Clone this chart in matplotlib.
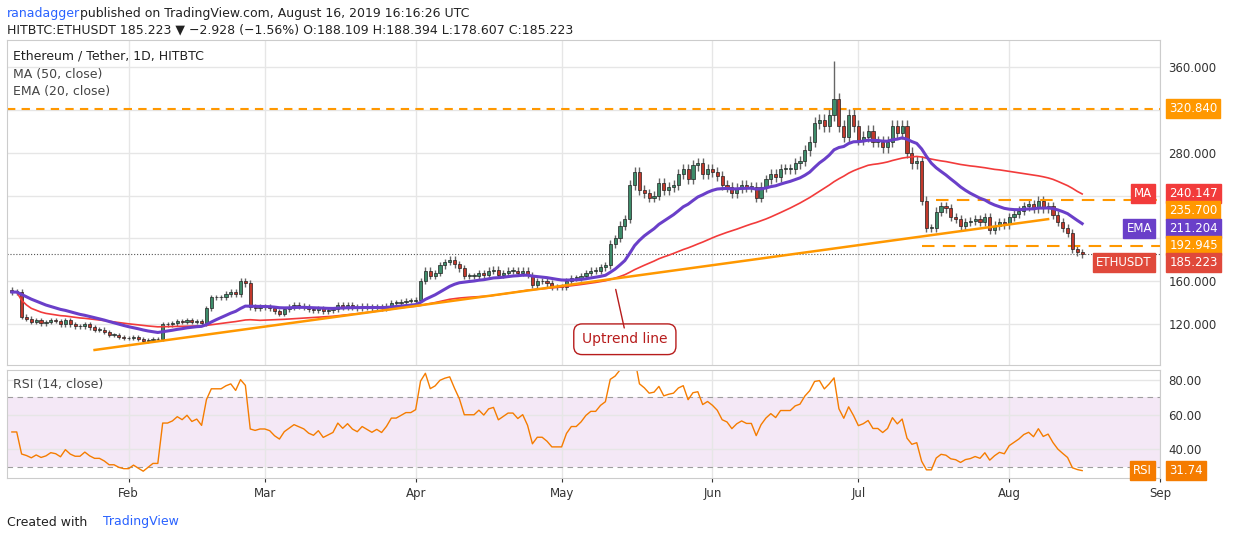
import numpy as np
import pandas as pd
import matplotlib.pyplot as plt
import matplotlib.dates as mdates

closes = [
    # Jan 8..31
    150, 150, 127, 125, 122, 124, 121, 122, 124, 123, 120, 124, 120, 118, 118, 120, 117, 115, 115, 113, 110, 110, 108, 107,
    # Feb
    107, 108, 106, 104, 105, 106, 106, 120, 120, 121, 123, 122, 124, 122, 123, 121, 135, 145, 145, 145, 148, 150, 148, 160, 158, 136, 135, 136,
    # Mar
    136, 135, 132, 130, 134, 136, 138, 137, 136, 134, 133, 135, 132, 133, 134, 138, 136, 138, 136, 135, 137, 136, 135, 136, 135, 137, 140, 140, 141, 142, 142,
    # Apr
    143, 160, 170, 165, 168, 175, 178, 180, 176, 172, 165, 165, 165, 168, 166, 170, 171, 166, 168, 170, 170, 168, 170, 166, 157, 160, 160, 158, 155, 155,
    # May
    155, 160, 163, 163, 165, 168, 170, 170, 173, 175, 195, 200, 212, 218, 250, 262, 245, 242, 238, 240, 252, 245, 248, 250, 260, 265, 255, 268, 270, 260, 265,
    # Jun
    262, 258, 250, 248, 242, 247, 250, 248, 248, 238, 248, 255, 260, 257, 265, 265, 265, 270, 272, 282, 290, 308, 310, 305, 315, 330, 305, 295, 315, 305,
    # Jul
    292, 295, 300, 290, 290, 285, 290, 305, 298, 305, 280, 270, 272, 235, 210, 210, 225, 230, 228, 220, 218, 212, 215, 216, 218, 215, 220, 208, 212, 215, 213,
    # Aug 1..16
    220, 223, 226, 230, 232, 228, 235, 228, 230, 222, 215, 210, 205, 190, 187, 185.223,
]
first_open = 152
dates = pd.date_range('2019-01-08', periods=len(closes), freq='D')

level_top = 320.840
level_res = 235.700
level_sup = 192.945
trend_dates = ['2019-01-25', '2019-08-09']
trend_prices = [96, 218]
rsi_seed = 3.0  # average gain/loss carried in from before the visible range

c = pd.Series(closes, index=dates, dtype=float)
o = c.shift(1).fillna(first_open)
h = np.maximum(o, c) * 1.018
l = np.minimum(o, c) * 0.982
h.iloc[169] = 365  # Jun 26 spike
ma50 = c.rolling(50, min_periods=1).mean()
ema20 = c.ewm(span=20, adjust=False).mean()
d = c.diff().fillna(0)
g = pd.concat([pd.Series([rsi_seed]), d.clip(lower=0).reset_index(drop=True)])
ls_ = pd.concat([pd.Series([rsi_seed]), (-d.clip(upper=0)).reset_index(drop=True)])
up = g.ewm(alpha=1 / 14, adjust=False).mean().iloc[1:].values
dn = ls_.ewm(alpha=1 / 14, adjust=False).mean().iloc[1:].values
rsi = pd.Series(100 - 100 / (1 + up / dn), index=dates)

fig = plt.figure(figsize=(12.34, 5.4), dpi=100)
ax = fig.add_axes([7 / 1234, 175 / 540, 1153 / 1234, 325 / 540])
ax2 = fig.add_axes([7 / 1234, 62 / 540, 1153 / 1234, 108 / 540], sharex=ax)

x = mdates.date2num(dates)
for xi, oi, ci, hi, li in zip(x, o, c, h, l):
    col = '#3d8c6a' if ci >= oi else '#c2382b'
    ax.vlines(xi, li, hi, color='#666666', lw=1, zorder=2)
    ax.bar(xi, max(abs(ci - oi), 0.6), bottom=min(oi, ci), width=0.65, color=col,
           edgecolor='#222222', lw=0.5, zorder=3)

ax.plot(dates, ma50, color='#f23b3b', lw=1.2, zorder=4)
ax.plot(dates, ema20, color='#6a3fc9', lw=2.2, zorder=4)
ax.axhline(level_top, color='#ff9800', ls=(0, (4, 3)), lw=1.5)
ax.plot(pd.to_datetime(['2019-07-14', '2019-09-01']), [level_sup] * 2, color='#ff9800', ls=(0, (6, 4)), lw=1.5)
ax.plot(pd.to_datetime(['2019-07-17', '2019-09-01']), [level_res] * 2, color='#ff9800', ls=(0, (6, 4)), lw=1.5)
ax.plot(pd.to_datetime(trend_dates), trend_prices, color='#ff9800', lw=1.8, zorder=5)
ax.axhline(closes[-1], color='#555555', ls=':', lw=0.8)
ax.text(mdates.date2num(pd.Timestamp('2019-05-14')), 106, 'Uptrend line', ha='center', va='center',
        fontsize=10, color='#b71c1c',
        bbox=dict(boxstyle='round,pad=0.6', fc='white', ec='#b71c1c', lw=1))
ax.annotate('', xy=(mdates.date2num(pd.Timestamp('2019-05-12')), 155),
            xytext=(mdates.date2num(pd.Timestamp('2019-05-14')), 114),
            arrowprops=dict(arrowstyle='-', color='#b71c1c', lw=1))

ax.set_ylim(82, 385)
ax.set_xlim(mdates.date2num(pd.Timestamp('2019-01-07')), mdates.date2num(pd.Timestamp('2019-09-01')))
ax.yaxis.tick_right()
ax.set_yticks([120, 160, 200, 240, 280, 320, 360])
ax.set_yticklabels(['120.000', '160.000', '', '', '280.000', '', '360.000'])
ax.tick_params(axis='y', length=0, labelsize=8.5, colors='#333333', pad=6)
ax.tick_params(axis='x', length=0, labelbottom=False)
ax.grid(color='#e6e6e6', lw=1)

ax.text(0.005, 0.97, 'Ethereum / Tether, 1D, HITBTC', transform=ax.transAxes, fontsize=9, va='top', color='#222222')
ax.text(0.005, 0.915, 'MA (50, close)', transform=ax.transAxes, fontsize=9, va='top', color='#444444')
ax.text(0.005, 0.86, 'EMA (20, close)', transform=ax.transAxes, fontsize=9, va='top', color='#444444')

def tag(axis, y, txt, fc, name=None):
    axis.text(1.008, y, txt, transform=axis.get_yaxis_transform(), fontsize=8.5, color='white', va='center',
              ha='left', bbox=dict(boxstyle='square,pad=0.25', fc=fc, ec=fc))
    if name:
        axis.text(0.993, y, name, transform=axis.get_yaxis_transform(), fontsize=8.5, color='white', va='center',
                  ha='right', bbox=dict(boxstyle='square,pad=0.25', fc=fc, ec=fc))

# label boxes are stacked so they do not overlap, as TradingView does
tag(ax, level_top, '320.840', '#ff9800')
tag(ax, 242.3, '240.147', '#f23b3b', 'MA')
tag(ax, 225.8, '235.700', '#ff9800')
tag(ax, 209.6, '211.204', '#6a3fc9', 'EMA')
tag(ax, 193.6, '192.945', '#ff9800')
tag(ax, 177.8, '185.223', '#e0493b', 'ETHUSDT')

ax2.axhspan(30, 70, color='#9c27b0', alpha=0.1, lw=0)
ax2.axhline(70, color='#9e9e9e', ls=(0, (5, 4)), lw=0.8)
ax2.axhline(30, color='#9e9e9e', ls=(0, (5, 4)), lw=0.8)
ax2.plot(dates, rsi, color='#f57c00', lw=1)
ax2.set_ylim(23.4, 85.8)
ax2.yaxis.tick_right()
ax2.set_yticks([40, 60, 80])
ax2.set_yticklabels(['40.00', '60.00', '80.00'])
ax2.tick_params(axis='y', length=0, labelsize=8.5, colors='#333333', pad=6)
ax2.grid(color='#e6e6e6', lw=1)
ax2.text(0.005, 0.93, 'RSI (14, close)', transform=ax2.transAxes, fontsize=9, va='top', color='#444444')
tag(ax2, rsi.iloc[-1], '31.74', '#f57c00', 'RSI')
ax2.xaxis.set_major_locator(mdates.MonthLocator())
ax2.xaxis.set_major_formatter(mdates.DateFormatter('%b'))
ax2.tick_params(axis='x', length=3, labelsize=8.5, colors='#333333')

for a in (ax, ax2):
    for s in a.spines.values():
        s.set_color('#cccccc')

fig.text(7 / 1234, 1 - 14 / 540, 'ranadagger', color='#2962ff', fontsize=9, va='center')
fig.text(80 / 1234, 1 - 14 / 540, 'published on TradingView.com, August 16, 2019 16:16:26 UTC', fontsize=9, va='center', color='#222222')
fig.text(7 / 1234, 1 - 30 / 540, 'HITBTC:ETHUSDT 185.223 \u25bc \u22122.928 (\u22121.56%) O:188.109 H:188.394 L:178.607 C:185.223',
         fontsize=9, va='center', color='#222222')
fig.text(7 / 1234, 1 - 522 / 540, 'Created with', fontsize=9, va='center', color='#222222')
fig.text(103 / 1234, 1 - 522 / 540, 'TradingView', fontsize=9, va='center', color='#2962ff')

fig.savefig('out.png', dpi=100)
